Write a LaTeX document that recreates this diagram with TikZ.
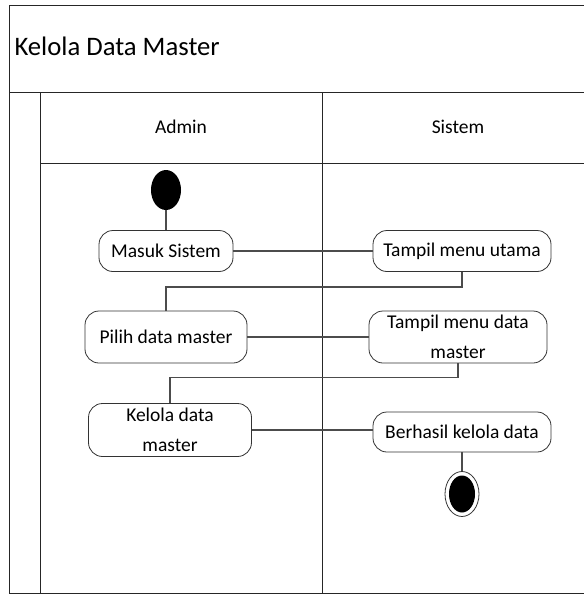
\documentclass[tikz,border=0pt]{standalone}
\usepackage{fontspec}
\setmainfont{Carlito}
\usetikzlibrary{shapes.geometric}

\begin{document}
\begin{tikzpicture}[x=1pt, y=-1pt,
    activity/.style={draw, rectangle, rounded corners=14pt, thick, black!80, text=black, align=center, font=\fontsize{19.5}{30}\selectfont, inner sep=1pt},
    lane/.style={draw, black!85, line width=0.9pt},
    flow/.style={draw, black!70, line width=1.3pt}]
    \useasboundingbox (0,0) rectangle (584,595);
    \clip (0,0) rectangle (584,595);

    % Swimlanes
    \draw[lane] (9.5,5) rectangle (600,593.5);
    \draw[lane] (9.5,92) -- (600,92);
    \draw[lane] (40,92) -- (40,593.5);
    \draw[lane] (40,163) -- (600,163);
    \draw[lane, line width=0.7pt] (322,92) -- (322,593.5);
    \node[anchor=west, font=\fontsize{26.7}{30}\selectfont] (title) at (11,46) {Kelola Data Master};
    \node[font=\fontsize{19.5}{22}\selectfont] (admin) at (181,127) {Admin};
    \node[font=\fontsize{19.5}{22}\selectfont] (sistem) at (458,127) {Sistem};

    % Boxes
    \node[fill=black, ellipse, minimum width=30pt, minimum height=40pt, inner sep=0pt] (start) at (166,190) {};
    \node[activity, minimum width=134pt, minimum height=41pt] (masuk) at (166,251) {Masuk Sistem};
    \node[activity, minimum width=178pt, minimum height=41pt] (utama) at (462,251) {Tampil menu utama};
    \node[activity, minimum width=162pt, minimum height=52pt] (pilih) at (166,337) {Pilih data master};
    \node[activity, minimum width=178pt, minimum height=52pt, inner sep=0pt] (menudata) at (458,337) {Tampil menu data\\master};
    \node[activity, minimum width=163pt, minimum height=53pt, inner sep=0pt] (kelola) at (170,430) {Kelola data\\master};
    \node[activity, minimum width=178pt, minimum height=40pt] (berhasil) at (462,432) {Berhasil kelola data};
    \node[draw, black!80, thick, ellipse, minimum width=34pt, minimum height=45pt, inner sep=0pt] (finish) at (462,494) {};
    \node[fill=black, ellipse, minimum width=26pt, minimum height=37pt, inner sep=0pt] (finishdot) at (finish.center) {};

    % Arrows
    \draw[flow] (start) -- (masuk);
    \draw[flow] (masuk) -- (utama);
    \draw[flow] (utama.south) -- ++(0,15) -| (pilih.north);
    \draw[flow] (pilih) -- (menudata);
    \draw[flow] (menudata.south) -- ++(0,14) -| (kelola.north);
    \draw[flow] (kelola.east) -- (berhasil.west |- kelola.east);
    \draw[flow] (berhasil) -- (finish);
\end{tikzpicture}
\end{document}
